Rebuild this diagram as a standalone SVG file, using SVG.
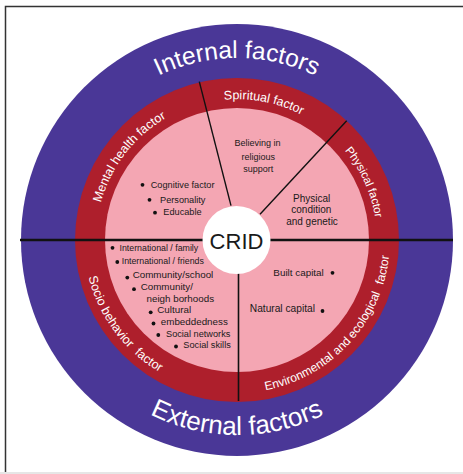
<svg xmlns="http://www.w3.org/2000/svg" width="463" height="474" viewBox="0 0 463 474">
<style>
.ring-lbl{font-family:"Liberation Sans",Arial,sans-serif;fill:#fff}
.big{font-family:"Liberation Sans",Arial,sans-serif;fill:#fff}
.in{font-family:"Liberation Sans",Arial,sans-serif;fill:#1a1a1a}
.div{stroke:#111;fill:none}
.dot{fill:#111}
</style>
<defs>
<path id="pInternal" d="M 55 240 A 182 182 0 0 1 419 240"/>
<path id="pExternal" d="M 42 240 A 195 195 0 0 0 432 240"/>
<path id="pSpiritual" d="M 105.4 189.5 A 141 141 0 0 1 377.98 242.46"/>
<path id="pMental" d="M 132.9 335.1 A 141 141 0 0 1 302.3 115.0"/>
<path id="pPhysical" d="M 202.2 104.4 A 140 140 0 0 1 316.1 355.5"/>
<path id="pSocio" d="M 125.5 135.3 A 153 153 0 0 0 306.0 376.6"/>
<path id="pEnv" d="M 154.6 368.9 A 153 153 0 0 0 358.5 147.1"/>
</defs>
<rect width="463" height="474" fill="#fff"/>
<path d="M 5.5 474 L 5.5 6.5 L 463 6.5" fill="none" stroke="#333" stroke-width="1.5"/>
<rect x="0" y="472" width="463" height="2" fill="#e6e6e6"/>

<g id="outer-ring">
<circle cx="237" cy="240" r="216" fill="#4a3797"/>
</g>
<g id="factor-ring">
<circle cx="237" cy="240" r="162" fill="#ae1f2c"/>
</g>
<g id="inner-field">
<circle cx="237" cy="240" r="132" fill="#f4a6b3"/>
</g>

<g id="connectors">
<line class="div" x1="20" y1="240" x2="453" y2="240" stroke-width="2.6"/>
<line class="div" x1="199.3" y1="81.7" x2="231" y2="205.7" stroke-width="1.4"/>
<line class="div" x1="346.7" y1="120.7" x2="260" y2="214.3" stroke-width="1.4"/>
<line class="div" x1="238.5" y1="272" x2="238.5" y2="401" stroke-width="1.6"/>
</g>

<g id="crid">
<circle cx="236.5" cy="240" r="34" fill="#fff"/>
<text class="in" x="236.5" y="248.5" font-size="22" text-anchor="middle" fill="#111">CRID</text>
</g>

<g id="internal-factors">
<text class="big" font-size="24.5"><textPath href="#pInternal" startOffset="50%" text-anchor="middle">Internal factors</textPath></text>
</g>
<g id="external-factors">
<text class="big" font-size="26"><textPath href="#pExternal" startOffset="50%" text-anchor="middle">External factors</textPath></text>
</g>

<g id="spiritual-factor">
<text class="ring-lbl" font-size="12.5"><textPath href="#pSpiritual" startOffset="50%" text-anchor="middle">Spiritual factor</textPath></text>
<text class="in" font-size="9" text-anchor="middle"><tspan x="257.5" y="146">Believing in</tspan><tspan x="258.3" y="159.5">religious</tspan><tspan x="258.3" y="172">support</tspan></text>
</g>

<g id="mental-health-factor">
<text class="ring-lbl" font-size="12.5"><textPath href="#pMental" startOffset="50%" text-anchor="middle">Mental health factor</textPath></text>
<circle class="dot" cx="142.5" cy="184.8" r="1.9"/>
<circle class="dot" cx="149.5" cy="199.8" r="1.9"/>
<circle class="dot" cx="155" cy="212.7" r="1.9"/>
<text class="in" font-size="9.2"><tspan x="150.7" y="188">Cognitive factor</tspan><tspan x="160" y="202.5">Personality</tspan><tspan x="163.3" y="215.3">Educable</tspan></text>
</g>

<g id="physical-factor">
<text class="ring-lbl" font-size="11.5"><textPath href="#pPhysical" startOffset="50%" text-anchor="middle">Physical factor</textPath></text>
<text class="in" font-size="10" text-anchor="middle"><tspan x="311.7" y="201.5">Physical</tspan><tspan x="311.3" y="213.3">condition</tspan><tspan x="312" y="224.5">and genetic</tspan></text>
</g>

<g id="socio-behavior-factor">
<text class="ring-lbl" font-size="12.5"><textPath href="#pSocio" startOffset="50%" text-anchor="middle">Socio behavior <tspan dx="4">factor</tspan></textPath></text>
<circle class="dot" cx="112.5" cy="247.8" r="1.9"/>
<circle class="dot" cx="117.3" cy="262" r="1.9"/>
<circle class="dot" cx="127.3" cy="277.6" r="1.9"/>
<circle class="dot" cx="134" cy="289.2" r="1.9"/>
<circle class="dot" cx="150.7" cy="312.3" r="1.9"/>
<circle class="dot" cx="153.5" cy="323.5" r="1.9"/>
<circle class="dot" cx="158.3" cy="335" r="1.9"/>
<circle class="dot" cx="176" cy="346.5" r="1.9"/>
<text class="in" font-size="8.8"><tspan x="119.5" y="250.5">International / family</tspan><tspan x="121.7" y="264">International / friends</tspan></text>
<text class="in" font-size="9.8"><tspan x="132.7" y="278">Community/school</tspan><tspan x="140.7" y="290.3">Community/</tspan><tspan x="146.5" y="301.5">neigh borhoods</tspan><tspan x="157.3" y="313">Cultural</tspan><tspan x="160.8" y="324.5">embeddedness</tspan></text>
<text class="in" font-size="9.2"><tspan x="166" y="336.8">Social networks</tspan><tspan x="183.3" y="348.4">Social skills</tspan></text>
</g>

<g id="environmental-ecological-factor">
<text class="ring-lbl" font-size="12"><textPath href="#pEnv" startOffset="50%" text-anchor="middle">Environmental and ecological <tspan dx="5">factor</tspan></textPath></text>
<text class="in" font-size="9.9" x="273.3" y="276.2">Built capital</text>
<text class="in" font-size="10.2" x="249.8" y="312">Natural capital</text>
<circle class="dot" cx="332.5" cy="272.8" r="1.9"/>
<circle class="dot" cx="322.5" cy="311" r="1.9"/>
</g>
</svg>
